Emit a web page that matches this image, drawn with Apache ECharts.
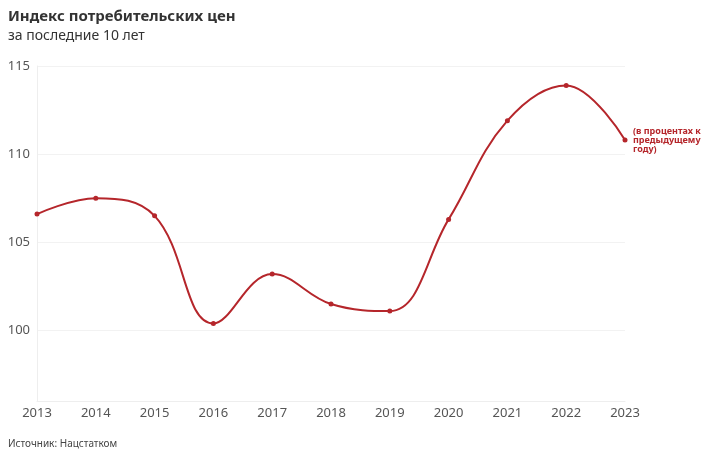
<!DOCTYPE html>
<html><head><meta charset="utf-8">
<script src="https://cdn.jsdelivr.net/npm/echarts@6/dist/echarts.min.js"></script>
<style>html,body{margin:0;padding:0;background:#fff}#c{width:720px;height:458px}</style>
</head><body><div id="c"></div>
<script>
const years = ['2013','2014','2015','2016','2017','2018','2019','2020','2021','2022','2023'];
const cpi = [106.6, 107.5, 106.5, 100.4, 103.2, 101.5, 101.1, 106.3, 111.9, 113.9, 110.8];
const yTicks = [100, 105, 110, 115];
const title = 'Индекс потребительских цен';
const subtitle = 'за последние 10 лет';
const source = 'Источник: Нацстатком';
const endNote = '(в процентах к\nпредыдущему\nгоду)';

const chart = echarts.init(document.getElementById('c'));
const red = '#b5262b';
chart.setOption({
  animation: false,
  textStyle: { fontFamily: 'Noto Sans' },
  title: [
    { text: title, left: 8, top: 9, padding: 0, textStyle: { fontSize: 15, fontWeight: 'bold', color: '#333', fontFamily: 'Noto Sans' } },
    { text: subtitle, left: 8, top: 29, padding: 0, textStyle: { fontSize: 14, fontWeight: 'normal', color: '#333', fontFamily: 'Noto Sans' } },
    { text: source, left: 8, top: 439, padding: 0, textStyle: { fontSize: 10, fontWeight: 'normal', color: '#444', fontFamily: 'Noto Sans' } }
  ],
  grid: { left: 37, right: 95, top: 66, bottom: 57, containLabel: false },
  xAxis: {
    type: 'category', data: years, boundaryGap: false,
    axisLine: { lineStyle: { color: '#eeeeee' } },
    axisTick: { show: false },
    axisLabel: { color: '#555', fontSize: 13, margin: 6 },
    splitLine: { show: false }
  },
  yAxis: {
    type: 'value', min: 96, max: 115,
    axisLine: { show: true, lineStyle: { color: '#eeeeee' } },
    axisTick: { show: false, customValues: yTicks },
    axisLabel: { color: '#555', fontSize: 13, margin: 7, customValues: yTicks },
    splitLine: { show: true, lineStyle: { color: '#f2f2f2' } }
  },
  series: [{
    type: 'line', data: cpi, smooth: 0.4,
    lineStyle: { color: red, width: 2 },
    itemStyle: { color: red },
    symbol: 'circle', symbolSize: 5,
    endLabel: { show: true, formatter: endNote, color: red, fontSize: 9, fontWeight: 'bold', lineHeight: 9, distance: 8 }
  }]
});
</script></body></html>
